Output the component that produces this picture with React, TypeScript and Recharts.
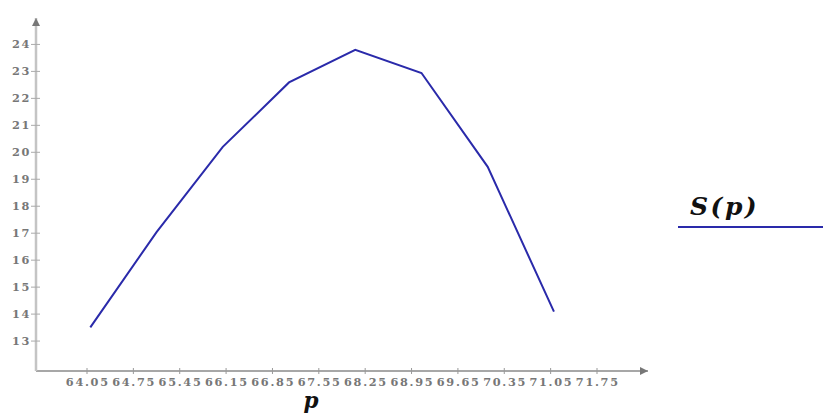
import React from "react";
import { LineChart, Line, XAxis, YAxis, Legend } from "recharts";

const pValues = [64.1, 65.1, 66.1, 67.1, 68.1, 69.1, 70.1, 71.1];
const sValues = [13.51, 17.04, 20.2, 22.59, 23.8, 22.94, 19.46, 14.09];
const xTicks = [64.05, 64.75, 65.45, 66.15, 66.85, 67.55, 68.25, 68.95, 69.65, 70.35, 71.05, 71.75];
const yTicks = [13, 14, 15, 16, 17, 18, 19, 20, 21, 22, 23, 24];
const seriesName = "S(p)";
const xLabel = "p";

const data = pValues.map((p, i) => ({ p, s: sValues[i] }));

const LINE_COLOR = "#2a2aaa";
const TICK_COLOR = "#777777";
const FONT = "'DejaVu Serif', serif";

const XTick = (props: any) => {
  const { x, y, payload } = props;
  return (
    <g>
      <line x1={x} x2={x} y1={y - 3} y2={y + 3} stroke="#999" strokeWidth={1} />
      <text
        x={x + 0.8}
        y={y + 15}
        textAnchor="middle"
        fill={TICK_COLOR}
        fontFamily={FONT}
        fontWeight="bold"
        fontSize={11.3}
        letterSpacing={1.7}
      >
        {payload.value.toFixed(2)}
      </text>
    </g>
  );
};

const YTick = (props: any) => {
  const { x, y, payload } = props;
  return (
    <g>
      <line x1={x - 5} x2={x + 4} y1={y} y2={y} stroke="#aaa" strokeWidth={1} />
      <text
        x={x - 5}
        y={y + 4}
        textAnchor="end"
        fill={TICK_COLOR}
        fontFamily={FONT}
        fontWeight="bold"
        fontSize={11.3}
        letterSpacing={1.7}
      >
        {payload.value}
      </text>
    </g>
  );
};

const renderLegend = () => (
  <svg width={145} height={45} style={{ display: "block" }}>
    <text
      x={12}
      y={26}
      fontFamily={FONT}
      fontWeight="bold"
      fontStyle="italic"
      fontSize={25}
      letterSpacing={2.5}
      fill="#111"
    >
      {seriesName}
    </text>
    <line x1={0} x2={145} y1={38} y2={38} stroke={LINE_COLOR} strokeWidth={2} />
  </svg>
);

export default function App() {
  return (
    <div style={{ position: "absolute", left: 0, top: 0 }}>
      <svg width={0} height={0} style={{ position: "absolute" }}>
        <defs>
          <marker
            id="arrowY"
            viewBox="0 0 10 10"
            refX="10"
            refY="5"
            markerWidth="9"
            markerHeight="8"
            markerUnits="userSpaceOnUse"
            orient="auto-start-reverse"
          >
            <path d="M0,0 L10,5 L0,10 z" fill="#777" />
          </marker>
          <marker
            id="arrowX"
            viewBox="0 0 10 10"
            refX="10"
            refY="5"
            markerWidth="10"
            markerHeight="8"
            markerUnits="userSpaceOnUse"
            orient="auto-start-reverse"
          >
            <path d="M0,0 L10,5 L0,10 z" fill="#777" />
          </marker>
        </defs>
      </svg>
      <LineChart
        width={823}
        height={417}
        data={data}
        margin={{ top: 18, right: 175, left: 0, bottom: 0 }}
      >
        <XAxis
          dataKey="p"
          type="number"
          domain={[63.28, 72.52]}
          ticks={xTicks}
          allowDataOverflow
          height={46}
          tickSize={0}
          tickMargin={0}
          tickLine={false}
          interval={0}
          tick={<XTick />}
          axisLine={{ stroke: "#8a8a8a", strokeWidth: 1.3, markerEnd: "url(#arrowX)" }}
          label={(props: any) => {
            const vb = props.viewBox;
            return (
              <text
                x={vb.x + vb.width / 2 - 31}
                y={vb.y + 37}
                textAnchor="middle"
                fontFamily={FONT}
                fontWeight="bold"
                fontStyle="italic"
                fontSize={21.5}
                letterSpacing={0}
                fill="#111"
              >
                {xLabel}
              </text>
            );
          }}
        />
        <YAxis
          type="number"
          domain={[11.89, 24.98]}
          ticks={yTicks}
          allowDataOverflow
          width={36}
          tickSize={0}
          tickMargin={0}
          tickLine={false}
          interval={0}
          tick={<YTick />}
          axisLine={{ stroke: "#c4c4c4", strokeWidth: 2.5, markerStart: "url(#arrowY)" }}
        />
        <Legend
          verticalAlign="middle"
          layout="horizontal"
          wrapperStyle={{ left: 678, top: 189, width: 145 }}
          content={renderLegend}
        />
        <Line
          type="linear"
          dataKey="s"
          name={seriesName}
          stroke={LINE_COLOR}
          strokeWidth={2}
          dot={false}
          activeDot={false}
          isAnimationActive={false}
        />
      </LineChart>
    </div>
  );
}
